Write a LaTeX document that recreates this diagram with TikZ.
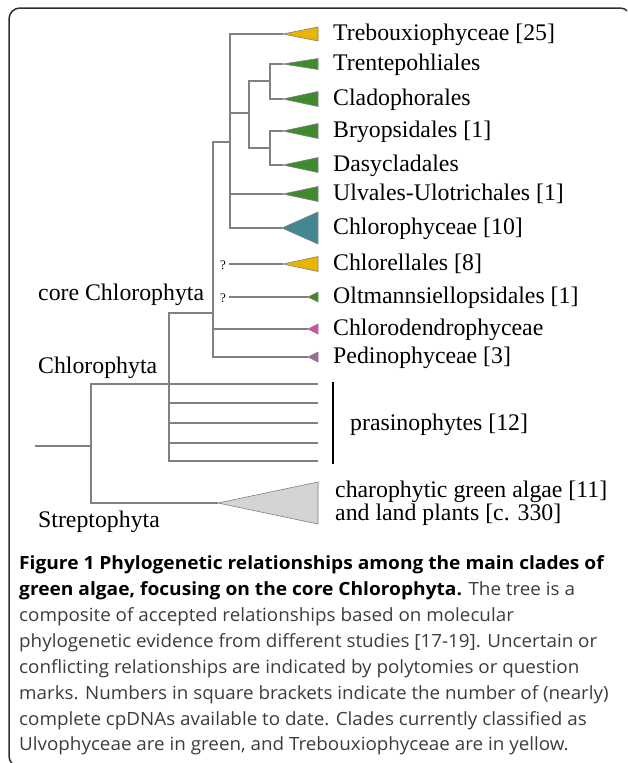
\documentclass[tikz,border=0pt]{standalone}
\usepackage{fontspec}
\setmainfont{Liberation Serif}
\newfontfamily\capfont[FakeStretch=1.034,BoldFeatures={FakeStretch=1.052}]{Open Sans}
\definecolor{treegray}{HTML}{808080}
\definecolor{tyellow}{HTML}{E9B500}
\definecolor{tgreen}{HTML}{3E8A2E}
\definecolor{tteal}{HTML}{438791}
\definecolor{tpink}{HTML}{D94BA6}
\definecolor{tpurple}{HTML}{9B6B9F}
\definecolor{tlgray}{HTML}{D4D4D4}
\definecolor{capgray}{HTML}{3C3C3C}
\definecolor{framegray}{HTML}{2E2E2E}
\newcommand\cladetri[4]{\path[tri,fill=#4] (#1) -- ([shift={(0,-#3)}]318,#2) -- ([shift={(0,#3)}]318,#2) -- cycle;}
\begin{document}
\begin{tikzpicture}[x=1pt,y=-1pt,
  br/.style={draw=treegray,line width=1.2pt},
  tri/.style={draw=treegray,line width=0.6pt},
  lab/.style={anchor=base west,inner sep=0pt,font=\fontsize{23.8}{26}\selectfont},
  qm/.style={inner sep=0pt,font=\fontsize{13}{14}\selectfont},
  captxt/.style={anchor=base west,inner sep=0pt,font=\capfont\fontsize{18.2}{22}\selectfont,text=capgray}]
\useasboundingbox (0,0) rectangle (627,763);
\clip (0,0) rectangle (627,763);
% frame
\draw[framegray,line width=1.5pt,rounded corners=11pt] (9,8) rectangle (631,767);

% internal nodes
\coordinate (r0) at (35,446);
\coordinate (root) at (91,446);
\coordinate (C) at (169,384);
\coordinate (K) at (213,313);
\coordinate (U) at (230,142);
\coordinate (A) at (249,113);
\coordinate (B1) at (270,81);
\coordinate (B2) at (270,148);
% tips
\coordinate (tTre) at (283,34);
\coordinate (tTen) at (283,64);
\coordinate (tCla) at (283,99);
\coordinate (tBry) at (283,131);
\coordinate (tDas) at (283,165);
\coordinate (tUlv) at (283,194);
\coordinate (tCph) at (282,228);
\coordinate (qa) at (229,264);
\coordinate (tCel) at (283,264);
\coordinate (qb) at (229,297);
\coordinate (tOlt) at (308,297);
\coordinate (tCdd) at (308,329);
\coordinate (tPed) at (308,357);
\coordinate (p1) at (318,384);
\coordinate (p2) at (318,403);
\coordinate (p3) at (318,423);
\coordinate (p4) at (318,443);
\coordinate (p5) at (318,461);
\coordinate (tStr) at (218,503);

% branches
\draw[br] (r0) -- (root);
\draw[br] (root) |- (C);
\draw[br] (root) |- (tStr);
\draw[br] (C) |- (K);
\foreach \p in {p1,p2,p3,p4,p5} \draw[br] (C) |- (\p);
\draw[br] (K) |- (U);
\draw[br] (K) |- (tCdd);
\draw[br] (K) |- (tPed);
\draw[br] (U) |- (tTre);
\draw[br] (U) |- (A);
\draw[br] (U) |- (tUlv);
\draw[br] (U) |- (tCph);
\draw[br] (A) |- (B1);
\draw[br] (A) |- (B2);
\draw[br] (B1) |- (tTen);
\draw[br] (B1) |- (tCla);
\draw[br] (B2) |- (tBry);
\draw[br] (B2) |- (tDas);
\draw[br] (qa) -- (tCel);
\draw[br] (qb) -- (tOlt);

% clade triangles
\cladetri{tTre}{34}{7}{tyellow}
\cladetri{tTen}{64}{5.5}{tgreen}
\cladetri{tCla}{99}{7.5}{tgreen}
\cladetri{tBry}{131}{7.5}{tgreen}
\cladetri{tDas}{165}{7.5}{tgreen}
\cladetri{tUlv}{194}{7.5}{tgreen}
\cladetri{tCph}{228}{16}{tteal}
\cladetri{tCel}{264}{7.5}{tyellow}
\cladetri{tOlt}{297}{5}{tgreen}
\cladetri{tCdd}{329}{5}{tpink}
\cladetri{tPed}{357}{5}{tpurple}
\cladetri{tStr}{503}{21}{tlgray}

% question marks
\node[qm] (q1) at (223,265) {?};
\node[qm] (q2) at (223,298) {?};

% labels
\node[lab] (lTre) at (333,40) {Trebouxiophyceae [25]};
\node[lab] (lTen) at (333,70) {Trentepohliales};
\node[lab] (lCla) at (333,105) {Cladophorales};
\node[lab] (lBry) at (333,137) {Bryopsidales [1]};
\node[lab] (lDas) at (333,171) {Dasycladales};
\node[lab] (lUlv) at (333,200) {Ulvales-Ulotrichales [1]};
\node[lab] (lCph) at (333,234) {Chlorophyceae [10]};
\node[lab] (lCel) at (333,270) {Chlorellales [8]};
\node[lab] (lOlt) at (333,303) {Oltmannsiellopsidales [1]};
\node[lab] (lCdd) at (333,335) {Chlorodendrophyceae};
\node[lab] (lPed) at (333,363) {Pedinophyceae [3]};
\node[lab] (lPra) at (350,430) {prasinophytes [12]};
\node[lab] (lSt1) at (335,497) {charophytic green algae [11]};
\node[lab] (lSt2) at (335,520) {and land plants [c. 330]};
\node[lab] (lcore) at (38,300) {core Chlorophyta};
\node[lab] (lchl) at (38,373) {Chlorophyta};
\node[lab] (lstr) at (38,527) {Streptophyta};
\draw[line width=2pt,black] (333,382) -- (333,464);

% caption
\node[captxt,text=black] (c1) at (19,569) {\bfseries Figure 1 Phylogenetic relationships among the main clades of};
\node[captxt] (c2) at (19,595) {{\bfseries\color{black}green algae, focusing on the core Chlorophyta.} The tree is a};
\node[captxt] (c3) at (19,621) {composite of accepted relationships based on molecular};
\node[captxt] (c4) at (19,647) {phylogenetic evidence from different studies [17-19]. Uncertain or};
\node[captxt] (c5) at (19,673) {conflicting relationships are indicated by polytomies or question};
\node[captxt] (c6) at (19,699) {marks. Numbers in square brackets indicate the number of (nearly)};
\node[captxt] (c7) at (19,725) {complete cpDNAs available to date. Clades currently classified as};
\node[captxt] (c8) at (19,750) {Ulvophyceae are in green, and Trebouxiophyceae are in yellow.};
\end{tikzpicture}
\end{document}
